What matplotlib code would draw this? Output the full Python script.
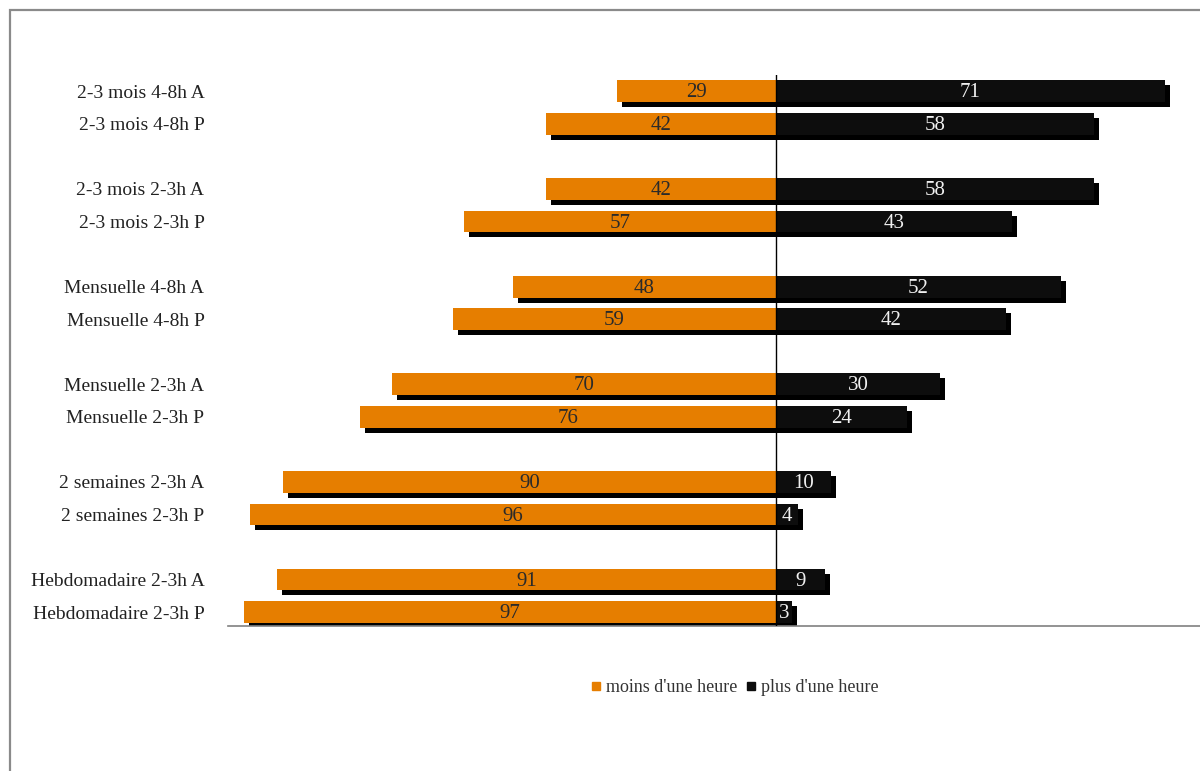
import matplotlib
matplotlib.use("Agg")
import matplotlib.pyplot as plt
import matplotlib.patheffects as pe
from matplotlib.patches import Rectangle
from matplotlib.lines import Line2D
import numpy as np

plt.rcParams['font.family'] = ['Liberation Serif', 'DejaVu Serif']

# data (top to bottom)
categories = ["2-3 mois 4-8h A", "2-3 mois 4-8h P",
              "2-3 mois 2-3h A", "2-3 mois 2-3h P",
              "Mensuelle 4-8h A", "Mensuelle 4-8h P",
              "Mensuelle 2-3h A", "Mensuelle 2-3h P",
              "2 semaines 2-3h A", "2 semaines 2-3h P",
              "Hebdomadaire 2-3h A", "Hebdomadaire 2-3h P"]
moins = [29, 42, 42, 57, 48, 59, 70, 76, 90, 96, 91, 97]
plus = [71, 58, 58, 43, 52, 42, 30, 24, 10, 4, 9, 3]
series_names = ["moins d'une heure", "plus d'une heure"]

ORANGE = '#E67E00'
BLACK = '#0D0D0D'

# row positions: pairs, with a gap between groups
n = len(categories)
ypos = []
for i in range(n):
    grp, k = divmod(i, 2)
    ypos.append(16 - (3 * grp + k))
ypos = np.array(ypos)

fig = plt.figure(figsize=(12, 7.71), dpi=100)
ax = fig.add_axes([0.19, 0.188, 0.9133, 0.7146])

shadow = [pe.SimplePatchShadow(offset=(3.6, -3.6), shadow_rgbFace='black', alpha=1.0), pe.Normal()]
h = 0.67
b1 = ax.barh(ypos, [-v for v in moins], height=h, color=ORANGE, zorder=2)
b2 = ax.barh(ypos, plus, height=h, color=BLACK, zorder=2)
for p in list(b1) + list(b2):
    p.set_path_effects(shadow)

for y, v in zip(ypos, moins):
    ax.text(-v / 2, y - 0.05, str(v), ha='center', va='center', fontsize=15, color='#2a2a2a', zorder=4)
for y, v in zip(ypos, plus):
    ax.text(v / 2, y - 0.05, str(v), ha='center', va='center', fontsize=15, color='#f0f0f0', zorder=4)

ax.axvline(0, color='black', lw=1, zorder=3)

ax.set_xlim(-100, 100)
ax.set_ylim(-0.43, 16.5)
ax.set_yticks(ypos)
ax.set_yticklabels(categories, fontsize=14, color='#222222')
ax.tick_params(axis='y', length=0, pad=17)
ax.set_xticks([])
for s in ['top', 'right', 'left']:
    ax.spines[s].set_visible(False)
ax.spines['bottom'].set_color('#808080')
ax.spines['bottom'].set_linewidth(1.2)

handles = [Line2D([], [], marker='s', linestyle='', color=ORANGE, markersize=6),
           Line2D([], [], marker='s', linestyle='', color=BLACK, markersize=6)]
fig.legend(handles, series_names, loc='center', bbox_to_anchor=(0.6125, 0.108), ncol=2,
           frameon=False, fontsize=13, handlelength=0.5, handletextpad=0.3,
           columnspacing=0.5, labelcolor='#333333')

fig.patches.append(Rectangle((10 / 1200, -0.1), 1.2, 1.1 - 10 / 771, transform=fig.transFigure,
                             fill=False, edgecolor='#8a8a8a', lw=1.6))

fig.savefig('out.png', dpi=100)
